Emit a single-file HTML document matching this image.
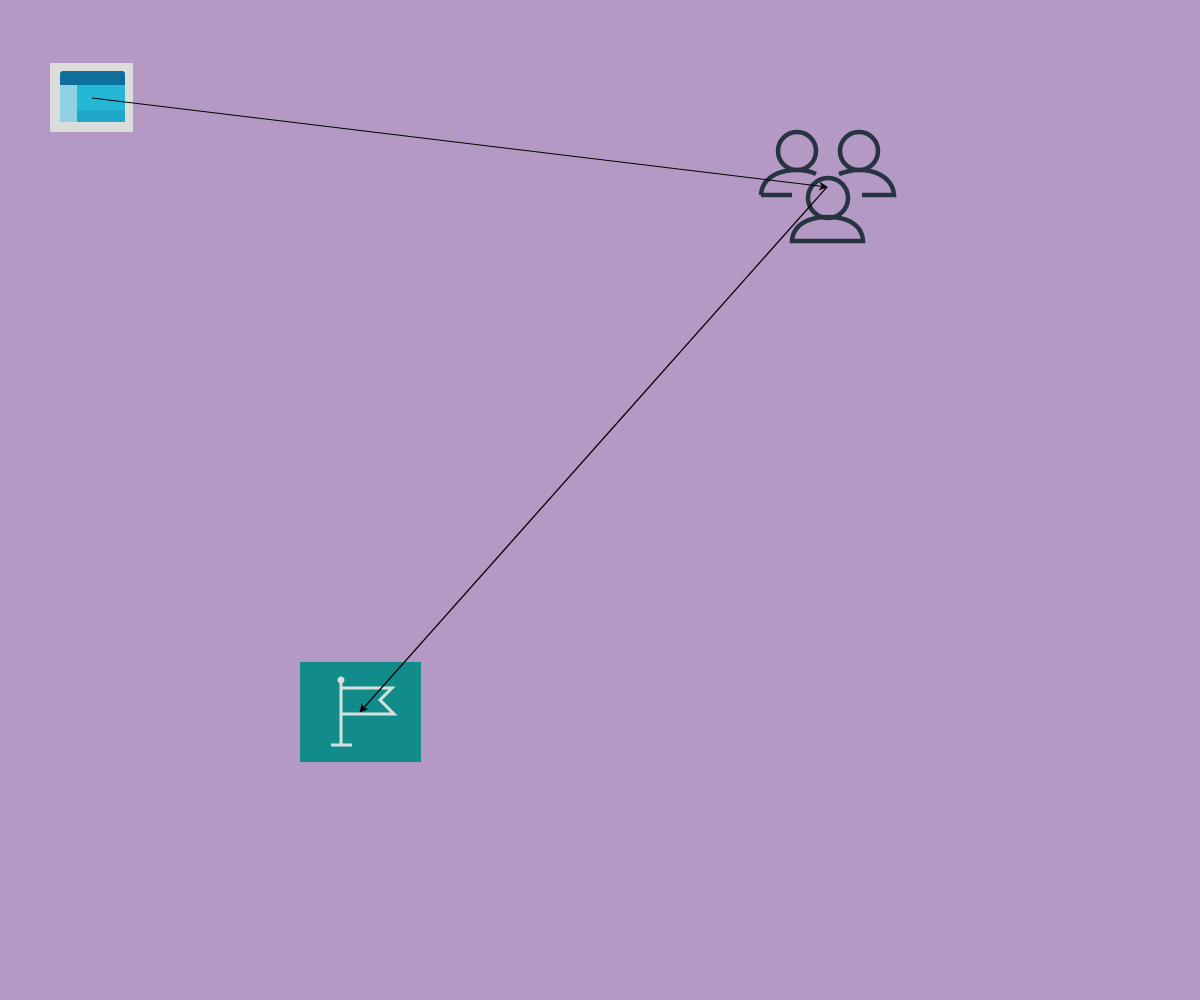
<!DOCTYPE html>
<html><head><style>html,body{margin:0;padding:0;background:#b599c5;overflow:hidden;width:1200px;height:1000px;}svg{display:block;}</style></head>
<body>
<svg width="1200" height="1000" viewBox="0 0 1200 1000" xmlns="http://www.w3.org/2000/svg">
<rect width="1200" height="1000" fill="#b599c5"/>
<defs>
<marker id="a" viewBox="0 0 10 10" refX="9" refY="5" markerWidth="9" markerHeight="9" orient="auto-start-reverse" markerUnits="userSpaceOnUse">
<path d="M0,0 L10,5 L0,10 L3,5 z" fill="#000"/></marker>
</defs>
<rect x="50" y="63" width="83" height="69" fill="#dcdcdc"/>
<rect x="60" y="71" width="65" height="51" rx="3" fill="#24b7d6"/>
<rect x="60" y="71" width="65" height="14" rx="3" fill="#0e6f9d"/>
<rect x="60" y="82" width="65" height="3" fill="#0e6f9d"/>
<rect x="60" y="85" width="17" height="37" fill="#8fd0e2"/>
<rect x="77" y="110" width="48" height="12" fill="#1fa8c8"/>
<g fill="none" stroke="#263340" stroke-width="4.5">
<circle cx="797" cy="151" r="19"/>
<circle cx="859" cy="151" r="19"/>
<path d="M761,195 C762,178 778,170 797,170 C806,170 812,172 816,174"/>
<path d="M761,195 H792"/>
<path d="M839,174 C845,172 851,170 859,170 C879,170 893,180 894,195 H862"/>
<circle cx="828" cy="198" r="20"/>
<path d="M792,241 C793,225 808,217 828,217 C848,217 862,225 863,241 Z"/>
</g>
<rect x="300" y="662" width="121" height="100" fill="#128b8b"/>
<g stroke="#d6e0dc" stroke-width="3" fill="none">
<line x1="341" y1="681" x2="341" y2="745"/>
<line x1="331" y1="745" x2="352" y2="745"/>
<path d="M341,688 H392 L380,700 L394,714 H341"/>
</g>
<circle cx="341" cy="680" r="3.5" fill="#d6e0dc"/>
<line x1="92" y1="98" x2="827" y2="187" stroke="#000" stroke-width="1" marker-end="url(#a)"/>
<line x1="827" y1="187" x2="360" y2="712" stroke="#000" stroke-width="1.3" marker-end="url(#a)"/>
</svg>
</body></html>
